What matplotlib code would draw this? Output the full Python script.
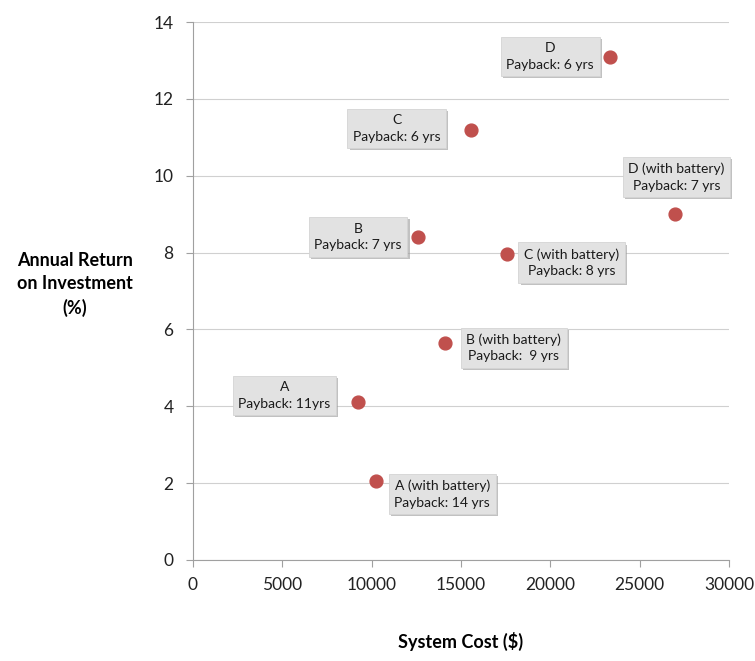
import matplotlib.pyplot as plt
import matplotlib.patheffects as pe

plt.rcParams['font.family'] = ['Lato', 'DejaVu Sans']

# system options: cost ($) vs annual return (%)
systems = ["A", "A (with battery)", "B", "B (with battery)",
           "C", "C (with battery)", "D", "D (with battery)"]
cost = [9250, 10250, 12600, 14100, 15550, 17550, 23350, 26950]
annual_return = [4.1, 2.05, 8.4, 5.65, 11.2, 7.95, 13.1, 9.0]
payback = ["11yrs", "14 yrs", "7 yrs", " 9 yrs", "6 yrs", "8 yrs", "6 yrs", "7 yrs"]

# label box centre offsets from each point, in pixels
offsets = [(-74, 7), (66, -13), (-60, 0), (69, -5),
           (-74, 1), (65, -8), (-60, 0), (2, 37)]

fig = plt.figure(figsize=(7.55, 6.61), dpi=100)
ax = fig.add_axes([0.2556, 0.1528, 0.71, 0.8139])

ax.scatter(cost, annual_return, s=85, color="#c0504d", zorder=3)

for name, x, y, pb, off in zip(systems, cost, annual_return, payback, offsets):
    t = ax.annotate(f"{name}\nPayback: {pb}", (x, y), xytext=off,
                    textcoords="offset pixels", ha="center", va="center",
                    fontsize=10, color="#1a1a1a", multialignment="center",
                    linespacing=1.45, zorder=4,
                    bbox=dict(boxstyle="square,pad=0.4", facecolor="#e2e2e2",
                              edgecolor="#d4d4d4", linewidth=0.6))
    t.get_bbox_patch().set_path_effects([
        pe.SimplePatchShadow(offset=(1.5, -1.5), shadow_rgbFace="#999999", alpha=0.6),
        pe.Normal()])

ax.set_xlim(0, 30000)
ax.set_ylim(0, 14)
ax.set_xticks(range(0, 30001, 5000))
ax.set_yticks(range(0, 15, 2))
ax.grid(axis="y", color="#d0d0d0", linewidth=0.8)
ax.set_axisbelow(True)

for side in ("top", "right"):
    ax.spines[side].set_visible(False)
for side in ("left", "bottom"):
    ax.spines[side].set_color("#a0a0a0")
ax.tick_params(axis="both", colors="#a0a0a0", labelcolor="#222222",
               labelsize=12.5, length=5, direction="out")
ax.tick_params(axis="x", pad=7)
ax.tick_params(axis="y", pad=9)

ax.set_xlabel("System Cost ($)", fontsize=13, fontweight="bold", labelpad=28)
fig.text(0.099, 0.57, "Annual Return\non Investment\n(%)", fontsize=13,
         fontweight="bold", ha="center", va="center", linespacing=1.45)

fig.savefig("out.png", dpi=100)
